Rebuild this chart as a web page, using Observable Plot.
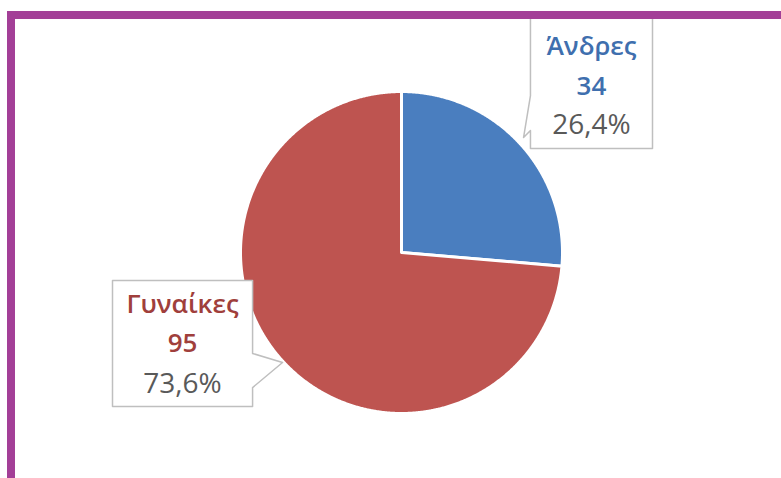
<!DOCTYPE html>
<html>
<head>
<meta charset="utf-8">
<script src="https://cdn.jsdelivr.net/npm/d3@7"></script>
<script src="https://cdn.jsdelivr.net/npm/@observablehq/plot@0.6"></script>
<style>
  html, body { margin: 0; padding: 0; background: #fff; }
  #wrap { position: relative; width: 781px; height: 478px; overflow: hidden; }
  #frameTop { position: absolute; left: 7px; top: 11px; right: 0; height: 8px; background: #A33F97; }
  #frameLeft { position: absolute; left: 7px; top: 11px; width: 8px; bottom: 0; background: #A33F97; }
</style>
</head>
<body>
<div id="wrap"><div id="chart"></div><div id="frameTop"></div><div id="frameLeft"></div></div>
<script>
// ---- data ----
const categories = ["Άνδρες", "Γυναίκες"];
const values = [34, 95];
const sliceColors = ["#4A7EBF", "#BE5450"];
const labelColors = ["#3F6FAE", "#A03F3C"];

// ---- layout (pie radius = 1 unit) ----
const cx = 401, cy = 252, r = 161;
const labelLayout = [
  { box: [[0.801,1.472],[1.559,1.472],[1.559,0.646],[0.801,0.646],[0.801,0.758],[0.758,0.714],[0.801,0.975]],
    tx: 1.180, ty: [1.224, 0.981, 0.739] },
  { box: [[-1.795,-0.174],[-0.925,-0.174],[-0.925,-0.627],[-0.739,-0.683],[-0.925,-0.839],[-0.925,-0.957],[-1.795,-0.957]],
    tx: -1.360, ty: [-0.373, -0.621, -0.870] }
];
const fontFamily = "'Open Sans', Lato, sans-serif";

const total = d3.sum(values);
const arcs = d3.pie().sort(null).value(d => d)(values);
const slicePts = arcs.flatMap((a, i) => {
  const n = Math.max(4, Math.ceil((a.endAngle - a.startAngle) / 0.005));
  const pts = [{ cat: categories[i], x: 0, y: 0 }];
  for (let k = 0; k <= n; k++) {
    const ang = a.startAngle + (a.endAngle - a.startAngle) * k / n;
    pts.push({ cat: categories[i], x: Math.sin(ang), y: Math.cos(ang) });
  }
  return pts;
});

const fmtPct = v => d3.format(".1f")(v * 100).replace(".", ",") + "%";

const marks = [
  Plot.line(slicePts, { x: "x", y: "y", z: "cat", fill: "cat", stroke: "white", strokeWidth: 3, curve: "linear-closed" })
];
categories.forEach((c, i) => {
  const L = labelLayout[i];
  const boxPts = L.box.map(([x, y]) => ({ x, y }));
  marks.push(Plot.line(boxPts, { x: "x", y: "y", fill: "white", stroke: "#BFBFBF", strokeWidth: 1.5, curve: "linear-closed" }));
  const rows = [
    { text: c, y: L.ty[0], fill: labelColors[i], weight: 600, size: 26 },
    { text: String(values[i]), y: L.ty[1], fill: labelColors[i], weight: 600, size: 26 },
    { text: fmtPct(values[i] / total), y: L.ty[2], fill: "#595959", weight: "normal", size: 28 }
  ];
  rows.forEach(row => {
    marks.push(Plot.text([row], { x: () => L.tx, y: "y", text: "text", fill: row.fill, fontWeight: row.weight,
      fontSize: row.size, fontFamily, lineAnchor: "bottom", textAnchor: "middle" }));
  });
});

const chart = Plot.plot({
  width: 781, height: 478, margin: 0,
  style: { background: "transparent", fontFamily },
  x: { domain: [-1, 1], range: [cx - r, cx + r], axis: null },
  y: { domain: [-1, 1], range: [cy + r, cy - r], axis: null },
  color: { domain: categories, range: sliceColors },
  marks
});
document.getElementById("chart").appendChild(chart);
</script>
</body>
</html>
